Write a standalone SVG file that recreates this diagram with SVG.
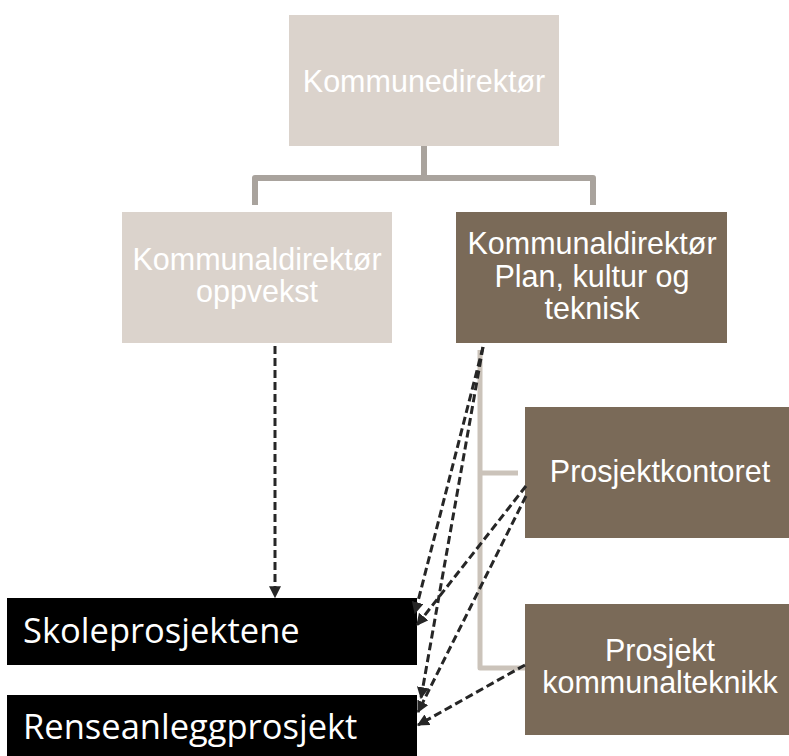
<svg xmlns="http://www.w3.org/2000/svg" width="789" height="756" viewBox="0 0 789 756">
  <style>
    .light { fill: #DBD3CC; }
    .dark { fill: #7A6A58; }
    .black { fill: #000000; }
    .lbl { font-family: "Liberation Sans", Arial, sans-serif; font-size: 30.5px; fill: #FFFFFF; text-anchor: middle; }
    .proj { font-family: "Open Sans", "Liberation Sans", sans-serif; font-size: 34.5px; fill: #FFFFFF; }
    .tree { fill: none; stroke: #A9A39D; stroke-width: 6; stroke-linejoin: round; }
    .sub { fill: none; stroke: #CBC3BA; stroke-width: 5; stroke-linejoin: round; }
    .dash { fill: none; stroke: #262626; stroke-width: 3; stroke-dasharray: 8 4; }
  </style>
  <defs>
    <marker id="arrow" viewBox="0 0 10 10" refX="9" refY="5" markerWidth="4" markerHeight="4" orient="auto" markerUnits="strokeWidth">
      <path d="M0,0 L10,5 L0,10 Z" fill="#262626"/>
    </marker>
  </defs>

  <rect width="789" height="756" fill="#FFFFFF"/>

  <!-- hierarchy lines -->
  <g id="tree-lines">
    <path class="tree" d="M424,146 V178 M255,205 V178 H593 V205"/>
    <path class="sub" d="M480,350 V668 H525 M480,473 H518"/>
  </g>

  <g id="kommunedirektor">
    <rect class="light" x="289" y="15" width="270" height="131"/>
    <text class="lbl" x="424" y="92">Kommunedirektør</text>
  </g>

  <g id="kd-oppvekst">
    <rect class="light" x="122" y="212" width="270" height="131"/>
    <text class="lbl" x="257" y="270">Kommunaldirektør</text>
    <text class="lbl" x="257" y="302">oppvekst</text>
  </g>

  <g id="kd-plan">
    <rect class="dark" x="456" y="212" width="271" height="131"/>
    <text class="lbl" x="592" y="254">Kommunaldirektør</text>
    <text class="lbl" x="592" y="287">Plan, kultur og</text>
    <text class="lbl" x="592" y="319">teknisk</text>
  </g>

  <g id="prosjektkontoret">
    <rect class="dark" x="525" y="407" width="264" height="131"/>
    <text class="lbl" x="660" y="482">Prosjektkontoret</text>
  </g>

  <g id="prosjekt-kommunalteknikk">
    <rect class="dark" x="525" y="604" width="264" height="131"/>
    <text class="lbl" x="660" y="661">Prosjekt</text>
    <text class="lbl" x="660" y="693">kommunalteknikk</text>
  </g>

  <g id="skoleprosjektene">
    <rect class="black" x="7" y="598" width="410" height="67"/>
    <text class="proj" x="23" y="643">Skoleprosjektene</text>
  </g>

  <g id="renseanleggprosjekt">
    <rect class="black" x="7" y="695" width="410" height="61"/>
    <text class="proj" x="23" y="739">Renseanleggprosjekt</text>
  </g>

  <!-- dashed project links -->
  <g id="connectors">
    <path class="dash" d="M275,346 V597" marker-end="url(#arrow)"/>
    <path class="dash" d="M483,347 L415,613" marker-end="url(#arrow)"/>
    <path class="dash" d="M483,347 L421,698" marker-end="url(#arrow)"/>
    <path class="dash" d="M526,486 L417,625" marker-end="url(#arrow)"/>
    <path class="dash" d="M526,496 L418,712" marker-end="url(#arrow)"/>
    <path class="dash" d="M525,665 L418,725" marker-end="url(#arrow)"/>
  </g>
</svg>
